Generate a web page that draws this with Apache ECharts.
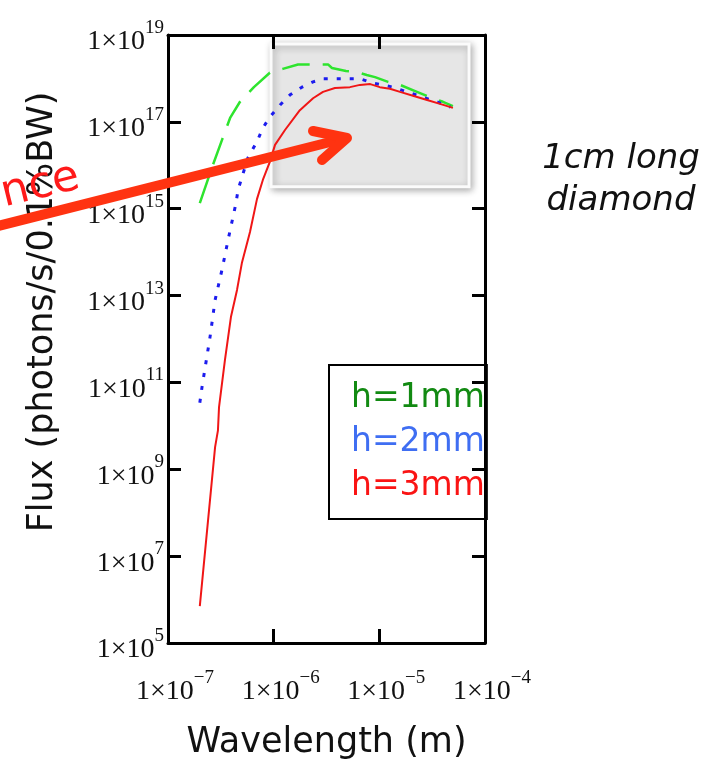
<!DOCTYPE html>
<html>
<head>
<meta charset="utf-8">
<script src="https://cdn.jsdelivr.net/npm/echarts@6/dist/echarts.min.js"></script>
<style>
  html, body { margin: 0; padding: 0; background: #ffffff; }
  #chart { width: 708px; height: 768px; }
</style>
</head>
<body>
<div id="chart"></div>
<script>
// Spectral flux versus wavelength for three crystal thicknesses
const seriesNames = ['h=1mm', 'h=2mm', 'h=3mm'];

const h1Wavelength = [2.0e-7, 2.6e-7, 3.24e-7, 3.87e-7, 4.8e-7, 6.5e-7, 9.2e-7, 1.22e-6, 1.7e-6, 3.27e-6, 3.56e-6,
  4.83e-6, 6.1e-6, 7.6e-6, 9.1e-6, 1.21e-5, 1.57e-5, 2.27e-5, 3.0e-5, 4.0e-5, 4.97e-5];
const h1Flux = [1.35e15, 8.7e15, 3.8e16, 1.23e17, 2.9e17, 6.3e17, 1.35e18, 1.66e18, 2.1e18, 2.1e18, 1.74e18,
  1.48e18, 1.41e18, 1.2e18, 1.07e18, 8.3e17, 7.1e17, 4.9e17, 3.7e17, 2.9e17, 2.3e17];

const h2Wavelength = [2.0e-7, 2.1e-7, 2.5e-7, 2.79e-7, 3.24e-7, 3.7e-7, 4.4e-7, 4.6e-7, 5.7e-7, 6.95e-7, 7.9e-7,
  9.2e-7, 1.15e-6, 1.43e-6, 1.85e-6, 2.36e-6, 2.93e-6, 3.97e-6, 6.56e-6, 8.7e-6, 1.35e-5, 1.83e-5, 2.59e-5,
  3.5e-5, 4.7e-5];
const h2Flux = [3.4e10, 7.9e10, 1.12e12, 7.9e12, 3.9e13, 1.9e14, 1.35e15, 2.7e15, 1.48e16, 3.5e16, 7.2e16,
  1.29e17, 2.45e17, 4.2e17, 6.3e17, 8.3e17, 9.8e17, 9.8e17, 9.8e17, 7.8e17, 6.3e17, 4.9e17, 3.7e17,
  2.9e17, 2.2e17];

const h3Wavelength = [2.0e-7, 2.79e-7, 2.97e-7, 3.04e-7, 3.46e-7, 3.94e-7, 4.5e-7, 5.0e-7, 5.97e-7, 6.95e-7,
  7.9e-7, 9.2e-7, 1.03e-6, 1.28e-6, 1.77e-6, 2.36e-6, 2.93e-6, 3.8e-6, 5.27e-6, 6.56e-6, 8.2e-6, 1.01e-5,
  1.26e-5, 1.57e-5, 2.08e-5, 2.83e-5, 3.75e-5, 4.97e-5];
const h3Flux = [7.1e5, 3.24e9, 7.9e9, 2.7e10, 3.3e11, 3.2e12, 1.35e13, 5.6e13, 2.9e14, 1.66e15,
  4.6e15, 1.2e16, 2.95e16, 6.5e16, 1.86e17, 3.5e17, 4.9e17, 6.0e17, 6.3e17, 7.1e17, 7.4e17, 6.3e17,
  5.8e17, 4.9e17, 4.0e17, 3.2e17, 2.6e17, 2.1e17];

// Highlighted region (wavelength range, flux range)
const zoomWavelength = [9.44e-7, 7.06e-5];
const zoomFlux = [3.2e15, 6.2e18];

// Axis ticks
const xTickValues = [1e-7, 1e-6, 1e-5, 1e-4];
const xTickExponents = ['\u22127', '\u22126', '\u22125', '\u22124'];
const yTickValues = [1e5, 1e7, 1e9, 1e11, 1e13, 1e15, 1e17, 1e19];
const yTickExponents = ['5', '7', '9', '11', '13', '15', '17', '19'];

const lineColors = ['#2ee42e', '#1c1cee', '#f01616'];
const textColors = ['#128a12', '#3f6ef2', '#fa1414'];

function pairs(xs, ys) { return xs.map((x, i) => [x, ys[i]]); }

function tickLabel(values, exps) {
  return function (v) {
    let idx = 0, best = Infinity;
    values.forEach((t, i) => {
      const d = Math.abs(Math.log10(t) - Math.log10(v));
      if (d < best) { best = d; idx = i; }
    });
    return '{b|1\u00d710}{s|' + exps[idx] + '}';
  };
}

const richTick = {
  b: { fontFamily: 'Liberation Serif', fontSize: 28, lineHeight: 28, color: '#111' },
  s: { fontFamily: 'Liberation Serif', fontSize: 19, lineHeight: 20, padding: [0, 0, 28, 0], color: '#111' }
};

const axisLineStyle = { show: true, lineStyle: { color: '#000', width: 3 } };
const tickLine = { color: '#000', width: 3 };

const chart = echarts.init(document.getElementById('chart'), null, { renderer: 'canvas' });

chart.setOption({
  backgroundColor: '#ffffff',
  animation: false,
  grid: { left: 168, top: 35, width: 317, height: 608, containLabel: false },
  legend: {
    orient: 'vertical',
    left: 329,
    top: 365,
    selectedMode: false,
    icon: 'none',
    itemWidth: 0,
    itemHeight: 10,
    itemGap: 0,
    padding: [11, 2, 11, 17],
    backgroundColor: '#ffffff',
    borderColor: '#000',
    borderWidth: 2,
    textStyle: { fontFamily: 'DejaVu Sans', fontSize: 33, lineHeight: 44 },
    data: seriesNames.map((n, i) => ({ name: n, textStyle: { color: textColors[i] } }))
  },
  xAxis: [{
    type: 'log', logBase: 10, min: 1e-7, max: 1e-4, position: 'bottom',
    name: 'Wavelength (m)', nameLocation: 'middle', nameGap: 82,
    nameTextStyle: { fontFamily: 'DejaVu Sans', fontSize: 35, color: '#111' },
    axisLine: axisLineStyle,
    axisTick: { show: true, inside: true, length: 14, lineStyle: tickLine, customValues: xTickValues },
    axisLabel: { margin: 35, padding: [0, 0, 0, 14], formatter: tickLabel(xTickValues, xTickExponents), rich: richTick, customValues: xTickValues },
    splitLine: { show: false }, minorTick: { show: false }
  }, {
    type: 'log', logBase: 10, min: 1e-7, max: 1e-4, position: 'top', z: 5,
    axisLine: axisLineStyle,
    axisTick: { show: true, inside: true, length: 14, lineStyle: tickLine, customValues: xTickValues },
    axisLabel: { show: false },
    splitLine: { show: false }
  }],
  yAxis: [{
    type: 'log', logBase: 10, min: 1e5, max: 1e19, position: 'left',
    name: 'Flux (photons/s/0.1%BW)', nameLocation: 'middle', nameGap: 108, nameRotate: 90,
    nameTextStyle: { fontFamily: 'DejaVu Sans', fontSize: 35, color: '#111', padding: [0, 0, 0, 54] },
    axisLine: axisLineStyle,
    axisTick: { show: true, inside: true, length: 13, lineStyle: tickLine, customValues: yTickValues },
    axisLabel: { margin: 4, padding: [14, 0, 0, 0], formatter: tickLabel(yTickValues, yTickExponents), rich: richTick, customValues: yTickValues },
    splitLine: { show: false }
  }, {
    type: 'log', logBase: 10, min: 1e5, max: 1e19, position: 'right', z: 5,
    axisLine: axisLineStyle,
    axisTick: { show: true, inside: true, length: 13, lineStyle: tickLine, customValues: yTickValues },
    axisLabel: { show: false },
    splitLine: { show: false }
  }],
  series: [
    {
      name: 'region', type: 'line', data: [], z: 1, silent: true,
      markArea: {
        silent: true,
        itemStyle: {
          color: '#e6e6e6', borderColor: '#fbfbfb', borderWidth: 3,
          shadowBlur: 7, shadowColor: 'rgba(0,0,0,0.3)', shadowOffsetX: 2, shadowOffsetY: 2
        },
        data: [[{ coord: [zoomWavelength[0], zoomFlux[1]] }, { coord: [zoomWavelength[1], zoomFlux[0]] }]]
      }
    },
    {
      name: seriesNames[0], type: 'line', showSymbol: false, z: 3, color: lineColors[0],
      lineStyle: { color: lineColors[0], width: 2.5, type: [28, 13] },
      data: pairs(h1Wavelength, h1Flux)
    },
    {
      name: seriesNames[1], type: 'line', showSymbol: false, z: 3, color: lineColors[1],
      lineStyle: { color: lineColors[1], width: 3, type: [4, 9] },
      data: pairs(h2Wavelength, h2Flux)
    },
    {
      name: seriesNames[2], type: 'line', showSymbol: false, z: 3, color: lineColors[2],
      lineStyle: { color: lineColors[2], width: 2 },
      data: pairs(h3Wavelength, h3Flux)
    }
  ],
  graphic: [
    {
      type: 'text', z: 50, x: 621, y: 138,
      style: {
        text: '1cm long\ndiamond', fill: '#111', fontFamily: 'DejaVu Sans', fontStyle: 'italic',
        fontSize: 34, lineHeight: 42, align: 'center', verticalAlign: 'top'
      }
    },
    {
      type: 'text', z: 60, x: 84, y: 198, rotation: 0.24,
      style: {
        text: 'nce', fill: '#ff1a1a', fontFamily: 'DejaVu Sans', fontSize: 44,
        align: 'right', verticalAlign: 'bottom'
      }
    },
    {
      type: 'line', z: 70, silent: true,
      shape: { x1: -10, y1: 228, x2: 342, y2: 139 },
      style: { stroke: '#ff3311', lineWidth: 10, lineCap: 'round' }
    },
    {
      type: 'polyline', z: 70, silent: true,
      shape: { points: [[313, 131], [347, 138], [322, 160]] },
      style: { stroke: '#ff3311', lineWidth: 10, lineCap: 'round', lineJoin: 'round', fill: null }
    }
  ]
});
</script>
</body>
</html>
